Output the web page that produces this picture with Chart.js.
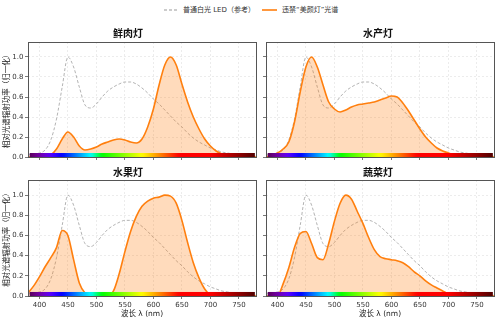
<!DOCTYPE html>
<html>
<head>
<meta charset="utf-8">
<script src="https://cdn.jsdelivr.net/npm/chart.js@4"></script>
<style>
    body { margin: 0; background: #fff; width: 499px; height: 323px; position: relative; overflow: hidden;
           font-family: "DejaVu Sans", "Noto Sans CJK SC", sans-serif; }
    canvas { position: absolute; }
    .leyenda-texto { position: absolute; top: 5px; font-size: 7px; line-height: 10px; color: #333; white-space: nowrap; }
    .leyenda-linea { position: absolute; top: 5px; }
</style>
</head>
<body>

<svg class="leyenda-linea" style="left:164px" width="16" height="10"><line x1="0" y1="5" x2="15" y2="5" stroke="#999" stroke-width="1" stroke-dasharray="3,2"/></svg>
<div class="leyenda-texto" style="left:183px">普通白光 LED（参考）</div>
<svg class="leyenda-linea" style="left:262px" width="16" height="10"><line x1="0" y1="5" x2="15" y2="5" stroke="#ff7f0e" stroke-width="1.6"/></svg>
<div class="leyenda-texto" style="left:282px">违禁“美颜灯”光谱</div>

<canvas id="panel1" width="262" height="145" style="left:0px; top:22px"></canvas>
<canvas id="panel2" width="237" height="145" style="left:262px; top:22px"></canvas>
<canvas id="panel3" width="262" height="161" style="left:0px; top:162px"></canvas>
<canvas id="panel4" width="237" height="161" style="left:262px; top:162px"></canvas>

<script>
// wavelengths 380..780 nm, every 10 nm
var longitudes = [380, 390, 400, 410, 420, 430, 440, 450, 460, 470, 480, 490, 500, 510, 520, 530, 540, 550, 560, 570,
                  580, 590, 600, 610, 620, 630, 640, 650, 660, 670, 680, 690, 700, 710, 720, 730, 740, 750, 760, 770, 780];

// normal white LED (reference), same in every panel
var ledReferencia = [0.02, 0.03, 0.04, 0.07, 0.17, 0.38, 0.70, 1.00, 0.90, 0.70, 0.52, 0.49, 0.53, 0.60, 0.66, 0.70, 0.73, 0.75, 0.75, 0.73,
                     0.69, 0.64, 0.58, 0.53, 0.47, 0.41, 0.35, 0.30, 0.24, 0.19, 0.15, 0.12, 0.09, 0.07, 0.05, 0.04, 0.03, 0.02, 0.015, 0.01, 0.01];

var lamparaCarne = [0, 0, 0, 0, 0.02, 0.08, 0.18, 0.25, 0.20, 0.11, 0.07, 0.08, 0.10, 0.13, 0.15, 0.17, 0.18, 0.17, 0.15, 0.14,
                    0.18, 0.30, 0.48, 0.72, 0.92, 1.00, 0.92, 0.73, 0.55, 0.40, 0.28, 0.18, 0.11, 0.06, 0.03, 0.01, 0, 0, 0, 0, 0];

var lamparaMariscos = [0, 0.02, 0.04, 0.08, 0.15, 0.35, 0.65, 0.90, 1.00, 0.90, 0.72, 0.55, 0.48, 0.45, 0.47, 0.50, 0.52, 0.53, 0.54, 0.55,
                       0.57, 0.59, 0.61, 0.60, 0.54, 0.46, 0.37, 0.28, 0.20, 0.14, 0.09, 0.06, 0.04, 0.02, 0.01, 0, 0, 0, 0, 0, 0];

var lamparaFruta = [0.03, 0.10, 0.19, 0.29, 0.38, 0.48, 0.65, 0.60, 0.36, 0.13, 0.03, 0, 0, 0, 0, 0.05, 0.22, 0.44, 0.64, 0.79,
                    0.89, 0.94, 0.97, 0.98, 1.00, 0.99, 0.92, 0.75, 0.53, 0.33, 0.18, 0.07, 0.01, 0, 0, 0, 0, 0, 0, 0, 0];

var lamparaVerdura = [0, 0, 0, 0.12, 0.28, 0.48, 0.62, 0.64, 0.52, 0.38, 0.36, 0.52, 0.74, 0.92, 1.00, 0.96, 0.84, 0.72, 0.58, 0.46,
                      0.39, 0.37, 0.36, 0.35, 0.33, 0.29, 0.24, 0.20, 0.15, 0.11, 0.08, 0.05, 0.02, 0.01, 0, 0, 0, 0, 0, 0, 0];

var ticksX = [400, 450, 500, 550, 600, 650, 700, 750];
var ticksY = [0, 0.2, 0.4, 0.6, 0.8, 1.0];

var fuente = "'DejaVu Sans', 'Noto Sans CJK SC', sans-serif";
Chart.defaults.font.family = fuente;

function puntos(valores) {
    return longitudes.map(function (l, i) { return { x: l, y: valores[i] }; });
}

// approximate visible colour of a wavelength
function colorLongitud(w) {
    var r = 0, g = 0, b = 0;
    if (w < 440) { r = (440 - w) / 60; b = 1; }
    else if (w < 490) { g = (w - 440) / 50; b = 1; }
    else if (w < 510) { g = 1; b = (510 - w) / 20; }
    else if (w < 580) { r = (w - 510) / 70; g = 1; }
    else if (w < 645) { r = 1; g = (645 - w) / 65; }
    else { r = 1; }
    var f = 1;
    if (w < 420) f = 0.3 + 0.7 * (w - 380) / 40;
    else if (w > 700) f = 0.3 + 0.7 * (780 - w) / 80;
    return 'rgb(' + Math.round(255 * r * f) + ',' + Math.round(255 * g * f) + ',' + Math.round(255 * b * f) + ')';
}

// rainbow strip along the bottom and box around the plot
var pluginEspectro = {
    id: 'espectro',
    afterDatasetsDraw: function (chart) {
        var ctx = chart.ctx, sx = chart.scales.x, sy = chart.scales.y;
        var x0 = sx.getPixelForValue(383), x1 = sx.getPixelForValue(778);
        var y0 = sy.getPixelForValue(0.04), y1 = sy.getPixelForValue(0);
        var grad = ctx.createLinearGradient(x0, 0, x1, 0);
        for (var w = 383; w <= 778; w += 5) {
            grad.addColorStop((w - 383) / (778 - 383), colorLongitud(w));
        }
        ctx.save();
        ctx.fillStyle = grad;
        ctx.fillRect(x0, y0, x1 - x0, y1 - y0);
        ctx.restore();
    },
    afterDraw: function (chart) {
        var a = chart.chartArea, ctx = chart.ctx;
        ctx.save();
        ctx.strokeStyle = '#555';
        ctx.lineWidth = 1;
        ctx.strokeRect(Math.round(a.left) + 0.5, Math.round(a.top) + 0.5, Math.round(a.right - a.left), Math.round(a.bottom - a.top));
        ctx.restore();
    }
};

function crearPanel(idCanvas, titulo, valores, izquierda, abajo) {
    var ctx = document.getElementById(idCanvas).getContext('2d');
    return new Chart(ctx, {
        type: 'line',
        data: {
            datasets: [
                {
                    label: titulo,
                    data: puntos(valores),
                    borderColor: '#ff7f0e',
                    backgroundColor: 'rgba(255, 127, 14, 0.28)',
                    borderWidth: 1.6,
                    fill: 'origin',
                    pointRadius: 0,
                    cubicInterpolationMode: 'monotone'
                },
                {
                    label: '普通白光 LED（参考）',
                    data: puntos(ledReferencia),
                    borderColor: '#a0a0a0',
                    borderWidth: 0.8,
                    borderDash: [3, 2],
                    fill: false,
                    pointRadius: 0,
                    cubicInterpolationMode: 'monotone'
                }
            ]
        },
        options: {
            responsive: false,
            animation: false,
            layout: { padding: { left: 0, right: izquierda ? 6 : 5, top: 0, bottom: 0 } },
            plugins: {
                legend: { display: false },
                tooltip: { enabled: false },
                title: {
                    display: true,
                    text: titulo,
                    color: '#111',
                    font: { size: 10, weight: 'bold' },
                    padding: abajo ? { top: 5, bottom: 1 } : { top: 6, bottom: 2 }
                }
            },
            scales: {
                x: {
                    type: 'linear',
                    min: 380,
                    max: 780,
                    afterBuildTicks: function (s) { s.ticks = ticksX.map(function (v) { return { value: v }; }); },
                    afterFit: function (s) { s.height = abajo ? 27 : 10; },
                    ticks: { display: abajo, color: '#333', font: { size: 7 }, padding: 2, maxRotation: 0 },
                    grid: { color: '#e4e4e4', lineWidth: 0.7, tickLength: 3, tickColor: '#555', tickWidth: 0.8 },
                    border: { display: false, dash: [2, 2] },
                    title: { display: abajo, text: '波长 λ (nm)', color: '#222', font: { size: 7.5 }, padding: { top: 0, bottom: 4 } }
                },
                y: {
                    min: 0,
                    max: 1.15,
                    afterBuildTicks: function (s) { s.ticks = ticksY.map(function (v) { return { value: v }; }); },
                    afterFit: function (s) { s.width = izquierda ? 28 : 4; },
                    ticks: {
                        display: izquierda, color: '#333', font: { size: 7 }, padding: 1.5,
                        callback: function (v) { return v.toFixed(1); }
                    },
                    grid: { color: '#e4e4e4', lineWidth: 0.7, tickLength: 3, tickColor: '#555', tickWidth: 0.8 },
                    border: { display: false, dash: [2, 2] },
                    title: { display: izquierda, text: '相对光谱辐射功率（归一化）', color: '#222', font: { size: 7.5 }, padding: { top: 3, bottom: 0 } }
                }
            }
        },
        plugins: [pluginEspectro]
    });
}

crearPanel('panel1', '鲜肉灯', lamparaCarne, true, false);
crearPanel('panel2', '水产灯', lamparaMariscos, false, false);
crearPanel('panel3', '水果灯', lamparaFruta, true, true);
crearPanel('panel4', '蔬菜灯', lamparaVerdura, false, true);
</script>
</body>
</html>
